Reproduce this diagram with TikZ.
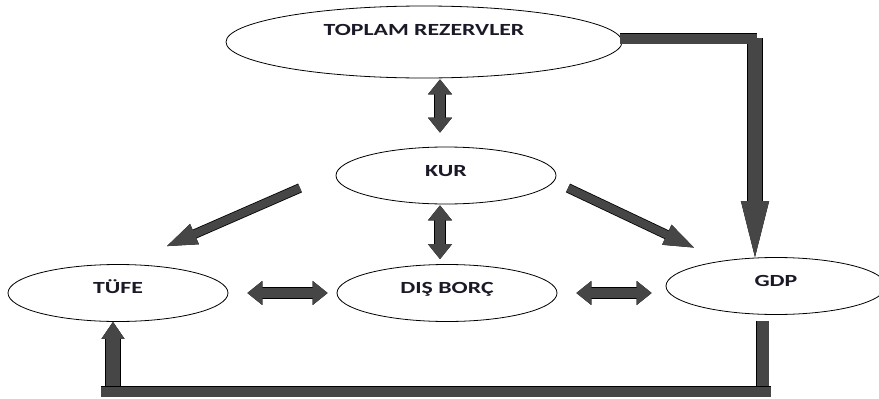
\documentclass[tikz,border=0pt]{standalone}
\usepackage{fontspec}
\usepackage{tikz}
\usetikzlibrary{arrows.meta, shapes.geometric, calc}
\newfontfamily\lblfont{Carlito}[FakeStretch=1.4]
\definecolor{ink}{RGB}{25,25,40}
\definecolor{shaft}{RGB}{70,70,70}

\tikzset{
    oval/.style={ellipse, draw, line width=0.8pt, minimum width=220pt, minimum height=57pt,
        inner sep=0pt, text height=11pt, text depth=10pt, text=ink,
        font=\lblfont\bfseries\fontsize{17}{20}\selectfont},
    hd/.tip={Triangle[width=24pt, length=15pt, line width'=0.8pt, fill=shaft]},
    dg/.tip={Triangle[width=22pt, length=30pt, line width'=0.8pt, fill=shaft]},
    gv/.tip={Triangle[width=28pt, length=56pt, line width'=0.8pt, fill=shaft]},
    up/.tip={Triangle[width=23pt, length=17pt, line width'=0.8pt, fill=shaft]},
    fat/.style={draw=shaft, line width=#1, preaction={draw=black, line width=#1+1.6pt}},
}

\begin{document}
\begin{tikzpicture}[x=1pt, y=-1pt]
    \useasboundingbox (0,0) rectangle (879,399);
    % ellipses
    \node[oval, minimum width=396pt, minimum height=72pt, text depth=24pt] (toplam) at (424,42) {TOPLAM REZERVLER};
    \node[oval] (kur) at (446,175.5) {KUR};
    \node[oval] (tufe) at (118,293) {TÜFE};
    \node[oval] (dis) at (447,293) {DIŞ BORÇ};
    \node[oval] (gdp) at (776,286) {GDP};

    % two-headed arrows
    \draw[fat=10pt, hd-hd, shorten <=1pt, shorten >=14pt] ([xshift=16pt]toplam.south) -- ([xshift=-6pt]kur.north);
    \draw[fat=10pt, hd-hd, shorten <=1pt, shorten >=5pt] ([xshift=-6pt]kur.south) -- ([xshift=-7pt]dis.north);
    \draw[fat=10pt, hd-hd, shorten <=19pt, shorten >=9pt] (tufe.east) -- (dis.west);
    \draw[fat=10pt, hd-hd, shorten <=19pt, shorten >=14pt] (dis.east) -- (gdp.west |- dis.east);

    % from KUR outwards
    \coordinate (kt) at (300,188);
    \coordinate (kg) at (568,188);
    \draw[fat=8pt, -dg] (kt) -- ($(tufe.north)+(49,-18)$);
    \draw[fat=8pt, -dg] (kg) -- ($(gdp.north west)+(-4,-18)$);

    % TOPLAM REZERVLER to GDP
    \coordinate (tr) at (757,38.5);
    \draw[fat=14pt, -gv] (755,38) -- ([xshift=-21pt]gdp.north);
    \draw[fat=10pt] ([yshift=3.5pt, xshift=-2pt]toplam.east) -- (tr);

    % GDP back to TUFE
    \coordinate (bl) at (101,391.5);
    \coordinate (br) at (771,391.5);
    \draw[fat=12pt] ([xshift=-13.5pt, yshift=-6pt]gdp.south) -- (762.5,391.5);
    \draw[fat=14pt, -up] (113,391) -- ([xshift=-5pt]tufe.south);
    \draw[fat=10pt] (bl) -- (br);
\end{tikzpicture}
\end{document}
